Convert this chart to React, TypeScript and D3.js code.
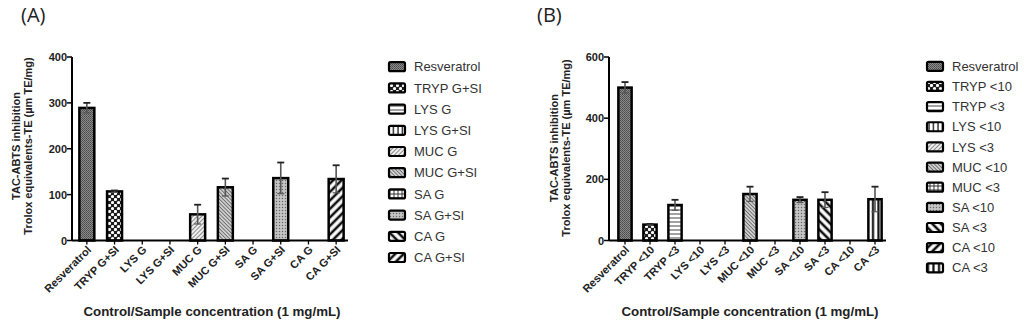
import * as d3 from "d3";

const categoriesA = ["Resveratrol", "TRYP G+SI", "LYS G", "LYS G+SI", "MUC G", "MUC G+SI", "SA G", "SA G+SI", "CA G", "CA G+SI"];
const valuesA = [289, 107, 0, 0, 57, 116, 0, 136, 0, 134];
const errorsA = [11, 2, 0, 0, 21, 19, 0, 34, 0, 30];
const ticksA = [0, 100, 200, 300, 400];

const categoriesB = ["Resveratrol", "TRYP <10", "TRYP <3", "LYS <10", "LYS <3", "MUC <10", "MUC <3", "SA <10", "SA <3", "CA <10", "CA <3"];
const valuesB = [500, 52, 116, 0, 0, 152, 0, 133, 133, 0, 135];
const errorsB = [18, 2, 17, 0, 0, 24, 0, 9, 25, 0, 41];
const ticksB = [0, 200, 400, 600];

// fill pattern per bar position, same order in both panels
const patternIds = ["p-dark", "p-checker", "p-hlines", "p-vlines", "p-diagL", "p-diagR", "p-grid", "p-speck", "p-thickR", "p-thickL", "p-thickV"];

const FONT = "'Liberation Sans', Arial, sans-serif";

const Patterns = () => (
  <defs>
    <pattern id="p-dark" width={2} height={2} patternUnits="userSpaceOnUse">
      <rect width={2} height={2} fill="#8a8a8a" />
      <rect width={1} height={1} fill="#4a4a4a" />
      <rect x={1} y={1} width={1} height={1} fill="#5a5a5a" />
    </pattern>
    <pattern id="p-checker" width={6} height={6} patternUnits="userSpaceOnUse">
      <rect width={6} height={6} fill="#1c1c1c" />
      <circle cx={1.5} cy={1.5} r={1.6} fill="#fff" />
      <circle cx={4.5} cy={4.5} r={1.6} fill="#fff" />
    </pattern>
    <pattern id="p-hlines" width={4} height={4} patternUnits="userSpaceOnUse">
      <rect width={4} height={4} fill="#fff" />
      <line x1={0} x2={4} y1={2} y2={2} stroke="#444" strokeWidth={1} />
    </pattern>
    <pattern id="p-vlines" width={4.5} height={4} patternUnits="userSpaceOnUse">
      <rect width={4.5} height={4} fill="#fff" />
      <line x1={2} x2={2} y1={0} y2={4} stroke="#222" strokeWidth={1.4} />
    </pattern>
    <pattern id="p-diagL" width={3} height={3} patternUnits="userSpaceOnUse" patternTransform="rotate(45)">
      <rect width={3} height={3} fill="#f4f4f4" />
      <line x1={1.5} x2={1.5} y1={0} y2={3} stroke="#8a8a8a" strokeWidth={1.1} />
    </pattern>
    <pattern id="p-diagR" width={2.6} height={3} patternUnits="userSpaceOnUse" patternTransform="rotate(-45)">
      <rect width={2.6} height={3} fill="#e8e8e8" />
      <line x1={1.3} x2={1.3} y1={0} y2={3} stroke="#6a6a6a" strokeWidth={1.2} />
    </pattern>
    <pattern id="p-grid" width={4} height={4} patternUnits="userSpaceOnUse">
      <rect width={4} height={4} fill="#fff" />
      <line x1={0} x2={4} y1={2} y2={2} stroke="#333" strokeWidth={1} />
      <line x1={2} x2={2} y1={0} y2={4} stroke="#333" strokeWidth={1} />
    </pattern>
    <pattern id="p-speck" width={3} height={3} patternUnits="userSpaceOnUse">
      <rect width={3} height={3} fill="#b8b8b8" />
      <rect width={1} height={1} fill="#666" />
      <rect x={1.5} y={1.5} width={1} height={1} fill="#eee" />
    </pattern>
    <pattern id="p-thickR" width={6} height={6} patternUnits="userSpaceOnUse" patternTransform="rotate(-45)">
      <rect width={6} height={6} fill="#fff" />
      <line x1={3} x2={3} y1={0} y2={6} stroke="#111" strokeWidth={2.6} />
    </pattern>
    <pattern id="p-thickL" width={6} height={6} patternUnits="userSpaceOnUse" patternTransform="rotate(45)">
      <rect width={6} height={6} fill="#fff" />
      <line x1={3} x2={3} y1={0} y2={6} stroke="#111" strokeWidth={2.6} />
    </pattern>
    <pattern id="p-thickV" width={5.5} height={6} patternUnits="userSpaceOnUse">
      <rect width={5.5} height={6} fill="#fff" />
      <line x1={4} x2={4} y1={0} y2={6} stroke="#111" strokeWidth={2.2} />
    </pattern>
  </defs>
);

interface PanelProps {
  label: string;
  labelX: number;
  categories: string[];
  values: number[];
  errors: number[];
  ticks: number[];
  axisX: number;
  bandRange: [number, number];
  axisEnd: number;
  pad: number;
  titleX1: number;
  titleX2: number;
  titleCY: number;
  xTitleCX: number;
  legendX: number;
  legendY0: number;
  legendStep: number;
}

const Panel = (props: PanelProps) => {
  const top = 57;
  const bottom = 240.5;
  const y = d3
    .scaleLinear()
    .domain([0, d3.max(props.ticks) as number])
    .range([bottom, top]);
  const x = d3
    .scaleBand()
    .domain(props.categories)
    .range(props.bandRange)
    .paddingInner(props.pad)
    .paddingOuter(props.pad / 2);
  const bw = x.bandwidth();

  return (
    <g>
      <text x={props.labelX} y={22} fontFamily="'Open Sans', sans-serif" fontSize={20} fill="#222">
        {props.label}
      </text>

      {/* bars */}
      {props.categories.map((c, i) => {
        const v = props.values[i];
        if (!v) return null;
        const x0 = x(c) as number;
        return (
          <rect
            key={c}
            x={x0}
            y={y(v)}
            width={bw}
            height={y(0) - y(v)}
            fill={`url(#${patternIds[i]})`}
            stroke="#000"
            strokeWidth={2.5}
          />
        );
      })}

      {/* error bars */}
      {props.categories.map((c, i) => {
        const v = props.values[i];
        const e = props.errors[i];
        if (!v) return null;
        const cx = (x(c) as number) + bw / 2;
        return (
          <g key={c + "-err"}>
            <line x1={cx} x2={cx} y1={y(v - e)} y2={y(v + e)} stroke="#555" strokeWidth={1.6} />
            <line x1={cx - 3.5} x2={cx + 3.5} y1={y(v + e)} y2={y(v + e)} stroke="#222" strokeWidth={1.8} />
            <line x1={cx - 3.5} x2={cx + 3.5} y1={y(v - e)} y2={y(v - e)} stroke="#555" strokeWidth={1.2} />
          </g>
        );
      })}

      {/* y axis */}
      <line x1={props.axisX} x2={props.axisX} y1={top} y2={bottom} stroke="#000" strokeWidth={2} />
      {props.ticks.map((t) => (
        <g key={t}>
          <line x1={props.axisX - 5} x2={props.axisX} y1={y(t)} y2={y(t)} stroke="#000" strokeWidth={1.5} />
          <text
            x={props.axisX - 5}
            y={y(t) + 4}
            textAnchor="end"
            fontFamily={FONT}
            fontWeight="bold"
            fontSize={11}
            fill="#222"
          >
            {t}
          </text>
        </g>
      ))}

      {/* x axis */}
      <line x1={props.axisX} x2={props.axisEnd} y1={bottom} y2={bottom} stroke="#000" strokeWidth={2} />
      {props.categories.map((c) => {
        const cx = (x(c) as number) + bw / 2;
        return (
          <g key={c + "-tick"}>
            <line x1={cx} x2={cx} y1={bottom} y2={bottom + 4} stroke="#000" strokeWidth={1.3} />
            <text
              transform={`translate(${cx + 5},${bottom + 10}) rotate(-45)`}
              textAnchor="end"
              fontFamily={FONT}
              fontWeight="bold"
              fontSize={11}
              fill="#222"
            >
              {c}
            </text>
          </g>
        );
      })}

      {/* axis titles */}
      <g fontFamily={FONT} fontWeight="bold" fontSize={11} fill="#222" textAnchor="middle">
        <text transform={`translate(${props.titleX1},${props.titleCY}) rotate(-90)`}>TAC-ABTS inhibition</text>
        <text transform={`translate(${props.titleX2},${props.titleCY}) rotate(-90)`}>
          Trolox equivalents-TE (µm TE/mg)
        </text>
      </g>
      <text
        x={props.xTitleCX}
        y={316}
        textAnchor="middle"
        fontFamily={FONT}
        fontWeight="bold"
        fontSize={13.3}
        fill="#222"
      >
        Control/Sample concentration (1 mg/mL)
      </text>

      {/* legend */}
      {props.categories.map((c, i) => {
        const cy = props.legendY0 + i * props.legendStep;
        return (
          <g key={c + "-leg"}>
            <rect
              x={props.legendX}
              y={cy - 4.5}
              width={16}
              height={9}
              rx={1.5}
              fill={`url(#${patternIds[i]})`}
              stroke="#000"
              strokeWidth={2.2}
            />
            <text x={props.legendX + 25} y={cy + 4.6} fontFamily={FONT} fontSize={13} fill="#333">
              {c}
            </text>
          </g>
        );
      })}
    </g>
  );
};

const App = () => {
  return (
    <svg width={1024} height={328} style={{ position: "absolute", left: 0, top: 0, background: "#fff" }}>
      <Patterns />
      <Panel
        label="(A)"
        labelX={21}
        categories={categoriesA}
        values={valuesA}
        errors={errorsA}
        ticks={ticksA}
        axisX={72}
        bandRange={[73, 350]}
        axisEnd={348}
        pad={0.46}
        titleX1={20}
        titleX2={31.5}
        titleCY={146}
        xTitleCX={212}
        legendX={389}
        legendY0={66.7}
        legendStep={21.2}
      />
      <Panel
        label="(B)"
        labelX={537}
        categories={categoriesB}
        values={valuesB}
        errors={errorsB}
        ticks={ticksB}
        axisX={609}
        bandRange={[612.5, 887.5]}
        axisEnd={886}
        pad={0.47}
        titleX1={558}
        titleX2={570}
        titleCY={148}
        xTitleCX={750}
        legendX={927}
        legendY0={66.3}
        legendStep={20.15}
      />
    </svg>
  );
};

export default App;
